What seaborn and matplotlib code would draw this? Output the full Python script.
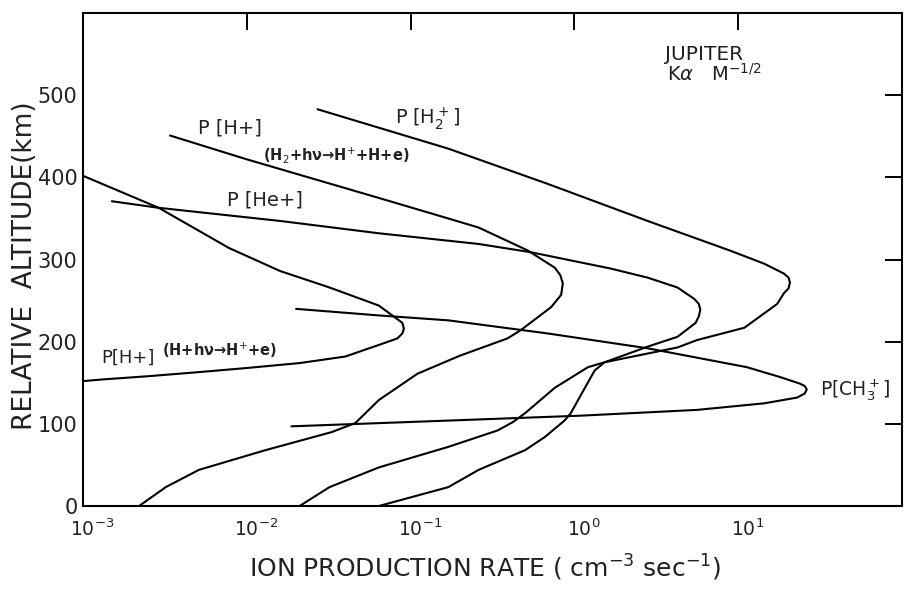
import matplotlib
matplotlib.use("Agg")
import matplotlib.pyplot as plt
import matplotlib.transforms as mtransforms
import seaborn as sns

# Curvas (tasa en cm^-3 s^-1, altitud relativa en km)
h_atom_x = [1.0e-3, 2.9e-3, 7.8e-3, 1.6e-2, 3.2e-2, 6.4e-2, 8.1e-2, 8.9e-2, 9.1e-2, 8.9e-2,
            8.3e-2, 6.6e-2, 4.0e-2, 2.1e-2, 1.0e-2, 5.1e-3, 2.5e-3, 1.3e-3, 1.0e-3]
h_atom_y = [402, 363, 314, 286, 266, 244, 229, 223, 216, 210, 204, 197, 182, 174, 168, 163,
            158, 154, 152]

h_mol_x = [3.4e-3, 1.0e-2, 6.4e-2, 0.17, 0.26, 0.52, 0.76, 0.82, 0.85, 0.83, 0.72, 0.47,
           0.39, 0.20, 0.11, 0.064, 0.046, 0.033, 0.013, 5.1e-3, 3.2e-3, 2.2e-3]
h_mol_y = [451, 422, 375, 350, 339, 311, 290, 281, 271, 257, 242, 214, 204, 183, 161, 129,
           101, 90, 68, 44, 23, 0]

he_x = [1.5e-3, 2.9e-3, 1.6e-2, 6.4e-2, 0.26, 0.54, 1.67, 2.8, 4.26, 5.4, 5.75, 5.87, 5.75,
        5.5, 4.26, 2.8, 1.53, 1.33, 1.16, 0.95, 0.87, 0.66, 0.50, 0.26, 0.17, 0.064]
he_y = [371, 363, 347, 332, 319, 309, 289, 278, 266, 252, 246, 239, 231, 223, 206, 194, 175,
        165, 144, 113, 104, 84, 68, 44, 23, 0]

h2_x = [0.027, 0.17, 0.69, 2.8, 8.9, 14.4, 19.0, 20.3, 20.7, 20.3, 19.0, 17.3, 10.9, 5.6,
        4.26, 1.53, 1.21, 0.76, 0.50, 0.42, 0.34, 0.17, 0.064, 0.032, 0.021]
h2_y = [483, 435, 392, 347, 311, 295, 283, 278, 272, 265, 259, 246, 217, 202, 193, 175, 169,
        144, 113, 102, 92, 72, 47, 23, 0]

ch3_x = [0.020, 0.064, 0.17, 0.69, 2.8, 11.3, 18.0, 23.8, 25.5, 26.2, 25.5, 22.9, 14.4, 5.6,
         1.1, 0.17, 0.0187]
ch3_y = [240, 232, 226, 210, 192, 169, 157, 149, 146, 142, 137, 132, 125, 117, 110, 104, 97]

x_ticks = [1e-3, 1e-2, 1e-1, 1e0, 1e1]
x_labels = [r'$10^{-3}$', r'$10^{-2}$', r'$10^{-1}$', r'$10^{0}$', r'$10^{1}$']
y_ticks = [0, 100, 200, 300, 400, 500]

sns.set_theme(style='white')
plt.rcParams['font.family'] = ['DejaVu Sans']
plt.rcParams['mathtext.fontset'] = 'dejavusans'

fig = plt.figure(figsize=(9.05, 5.91), dpi=100)
ax = fig.add_axes([0.0917, 0.1438, 0.905, 0.834])

for xs, ys in [(h_atom_x, h_atom_y), (h_mol_x, h_mol_y), (he_x, he_y),
               (h2_x, h2_y), (ch3_x, ch3_y)]:
    sns.lineplot(x=xs, y=ys, sort=False, estimator=None, color='black', lw=1.5, ax=ax)

ax.set_xscale('log')
ax.set_xlim(1e-3, 1e2)
ax.set_ylim(0, 600)
ax.set_xticks(x_ticks)
ax.set_xticklabels(x_labels)
ax.set_yticks(y_ticks)
ax.minorticks_off()
ax.tick_params(direction='in', length=12, width=1.4, color='black', top=True, right=True,
               labelcolor='#222222')
ax.tick_params(axis='x', labelsize=13.5, pad=9)
ax.tick_params(axis='y', labelsize=15, pad=4)
# el "10" de cada etiqueta queda centrado sobre la marca, como en el original
shift = mtransforms.ScaledTranslation(0.09, 0, fig.dpi_scale_trans)
for lab in ax.get_xticklabels():
    lab.set_transform(lab.get_transform() + shift)
for s in ax.spines.values():
    s.set_color('black')
    s.set_linewidth(1.5)

ax.set_xlabel(r'ION PRODUCTION RATE ( cm$^{-3}$ sec$^{-1}$)', fontsize=18, color='#222222')
ax.xaxis.set_label_coords(0.491, -0.095)
ax.set_ylabel('RELATIVE  ALTITUDE(km)', fontsize=19, color='#222222')
ax.yaxis.set_label_coords(-0.055, 0.487)

# Etiquetas de las curvas
kw = dict(transform=ax.transAxes, va='center', ha='left', color='#222222')
ax.text(0.381, 0.787, r'P [H$_2^+$]', fontsize=14, **kw)
ax.text(0.140, 0.767, 'P [H+]', fontsize=14, **kw)
ax.text(0.220, 0.712, r'(H$_2$+hν→H$^{+}$+H+e)', fontsize=10.5, fontweight='bold', **kw)
ax.text(0.176, 0.621, 'P [He+]', fontsize=14, **kw)
ax.text(0.022, 0.300, 'P[H+]', fontsize=13, **kw)
ax.text(0.097, 0.316, r'(H+hν→H$^{+}$+e)', fontsize=10.5, fontweight='bold', **kw)
ax.text(0.900, 0.235, r'P[CH$_3^+$]', fontsize=13.5, **kw)
ax.text(0.711, 0.917, 'JUPITER', fontsize=14.5, **kw)
ax.text(0.713, 0.876, r'K$\alpha$   M$^{-1/2}$', fontsize=14, **kw)

fig.savefig('out.png', dpi=100)
